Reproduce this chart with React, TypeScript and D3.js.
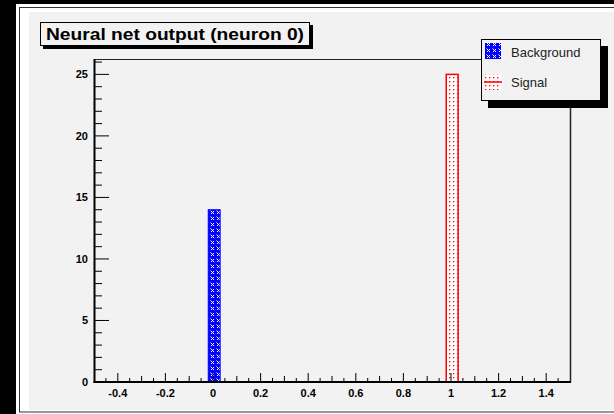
import React from "react";
import * as d3 from "d3";

const W = 614;
const H = 414;

const title = "Neural net output (neuron 0)";
const seriesNames = ["Background", "Signal"];
const binLow = [-0.02, 0.98];
const binWidth = 0.05;
const backgroundCounts = [14, 0];
const signalCounts = [0, 25];
const xTickLabels = ["-0.4", "-0.2", "0", "0.2", "0.4", "0.6", "0.8", "1", "1.2", "1.4"];
const yTickLabels = ["0", "5", "10", "15", "20", "25"];

export default function App() {
  const x = d3.scaleLinear().domain([-0.5, 1.5]).range([94, 570]);
  const y = d3.scaleLinear().domain([0, 26.25]).range([382, 59]);

  const xMinor = d3.range(-0.45, 1.5, 0.05).map((v) => Math.round(v * 100) / 100);
  const yMinor = d3.range(1, 27, 1);

  const font = "'Liberation Sans', Arial, Helvetica, sans-serif";

  return (
    <svg width={W} height={H} style={{ position: "absolute", left: 0, top: 0 }}>
      <defs>
        <pattern id="bluehatch" patternUnits="userSpaceOnUse" width="6" height="6">
          <rect width="6" height="6" fill="#0000ff" />
          <path d="M0.5,0.5 L4,4 M4,1 L1,4" stroke="#ffffff" strokeWidth="1" />
        </pattern>
        <pattern id="reddots" patternUnits="userSpaceOnUse" width="4" height="4">
          <rect width="4" height="4" fill="#ffffff" />
          <rect x="1" y="1" width="1.3" height="1.3" fill="#ff0000" />
        </pattern>
      </defs>
      <rect x={0} y={0} width={W} height={H} fill="#000" />
      <rect x={16} y={4} width={W - 16} height={H - 4} fill="#ffffff" />
      <rect x={19.5} y={7.5} width={W} height={404.5} fill="#ffffff" stroke="#333" strokeWidth={1} />
      <rect x={29} y={12} width={W - 29} height={398} fill="#f2f2f2" />

      {/* frame top and right */}
      <line x1={94} y1={59.5} x2={570.5} y2={59.5} stroke="#222" strokeWidth={1.2} />
      <line x1={570.5} y1={59} x2={570.5} y2={382} stroke="#222" strokeWidth={1.5} />

      {/* bars */}
      {binLow.map((b, i) =>
        backgroundCounts[i] > 0 ? (
          <rect
            key={"bg" + i}
            x={x(b)}
            y={y(backgroundCounts[i])}
            width={x(b + binWidth) - x(b)}
            height={y(0) - y(backgroundCounts[i])}
            fill="url(#bluehatch)"
            stroke="#0000ff"
            strokeWidth={1}
          />
        ) : null
      )}
      {binLow.map((b, i) =>
        signalCounts[i] > 0 ? (
          <rect
            key={"sg" + i}
            x={x(b)}
            y={y(signalCounts[i])}
            width={x(b + binWidth) - x(b)}
            height={y(0) - y(signalCounts[i])}
            fill="url(#reddots)"
            stroke="#ff0000"
            strokeWidth={1.5}
          />
        ) : null
      )}

      {/* y axis */}
      <line x1={94.5} y1={59} x2={94.5} y2={383} stroke="#000" strokeWidth={2} />
      {yMinor.map((v) => (
        <line key={"ym" + v} x1={94} x2={v % 5 === 0 ? 109 : 102} y1={y(v)} y2={y(v)} stroke="#000" strokeWidth={1} />
      ))}
      {yTickLabels.map((t) => (
        <text
          key={"yl" + t}
          x={88}
          y={y(+t)}
          dy="0.36em"
          textAnchor="end"
          fontFamily={font}
          fontWeight="bold"
          fontSize={11}
          fill="#000"
        >
          {t}
        </text>
      ))}

      {/* x axis */}
      <line x1={93.5} y1={382} x2={571} y2={382} stroke="#000" strokeWidth={2} />
      {xMinor.map((v) => {
        const r = Math.round(v * 100);
        const len = r % 20 === 0 ? 9 : r % 10 === 0 ? 6 : 4;
        return <line key={"xm" + v} x1={x(v)} x2={x(v)} y1={382} y2={382 - len} stroke="#000" strokeWidth={1} />;
      })}
      {xTickLabels.map((t) => (
        <text
          key={"xl" + t}
          x={x(+t)}
          y={397}
          textAnchor="middle"
          fontFamily={font}
          fontWeight="bold"
          fontSize={11}
          fill="#000"
        >
          {t}
        </text>
      ))}

      {/* title box */}
      <rect x={43} y={25} width={270} height={24} fill="#000" />
      <rect x={40.5} y={22.5} width={269} height={23} fill="#f2f2f2" stroke="#000" strokeWidth={1} />
      <text
        x={46}
        y={40}
        fontFamily={font}
        fontWeight="bold"
        fontSize={16.5}
        textLength={258}
        lengthAdjust="spacingAndGlyphs"
        fill="#000"
      >
        {title}
      </text>

      {/* legend */}
      <rect x={488} y={46} width={120} height={62} fill="#000" />
      <rect x={481.5} y={39.5} width={119} height={61} fill="#f2f2f2" stroke="#000" strokeWidth={1} />
      <rect x={485} y={43} width={16} height={16} fill="url(#bluehatch)" />
      <text x={511} y={52} dy="0.35em" fontFamily={font} fontSize={13} fill="#222">
        {seriesNames[0]}
      </text>
      <rect x={485} y={74} width={16} height={16} fill="url(#reddots)" />
      <line x1={484} x2={502} y1={82} y2={82} stroke="#ff0000" strokeWidth={1.5} />
      <text x={511} y={82} dy="0.35em" fontFamily={font} fontSize={13} fill="#222">
        {seriesNames[1]}
      </text>
    </svg>
  );
}
